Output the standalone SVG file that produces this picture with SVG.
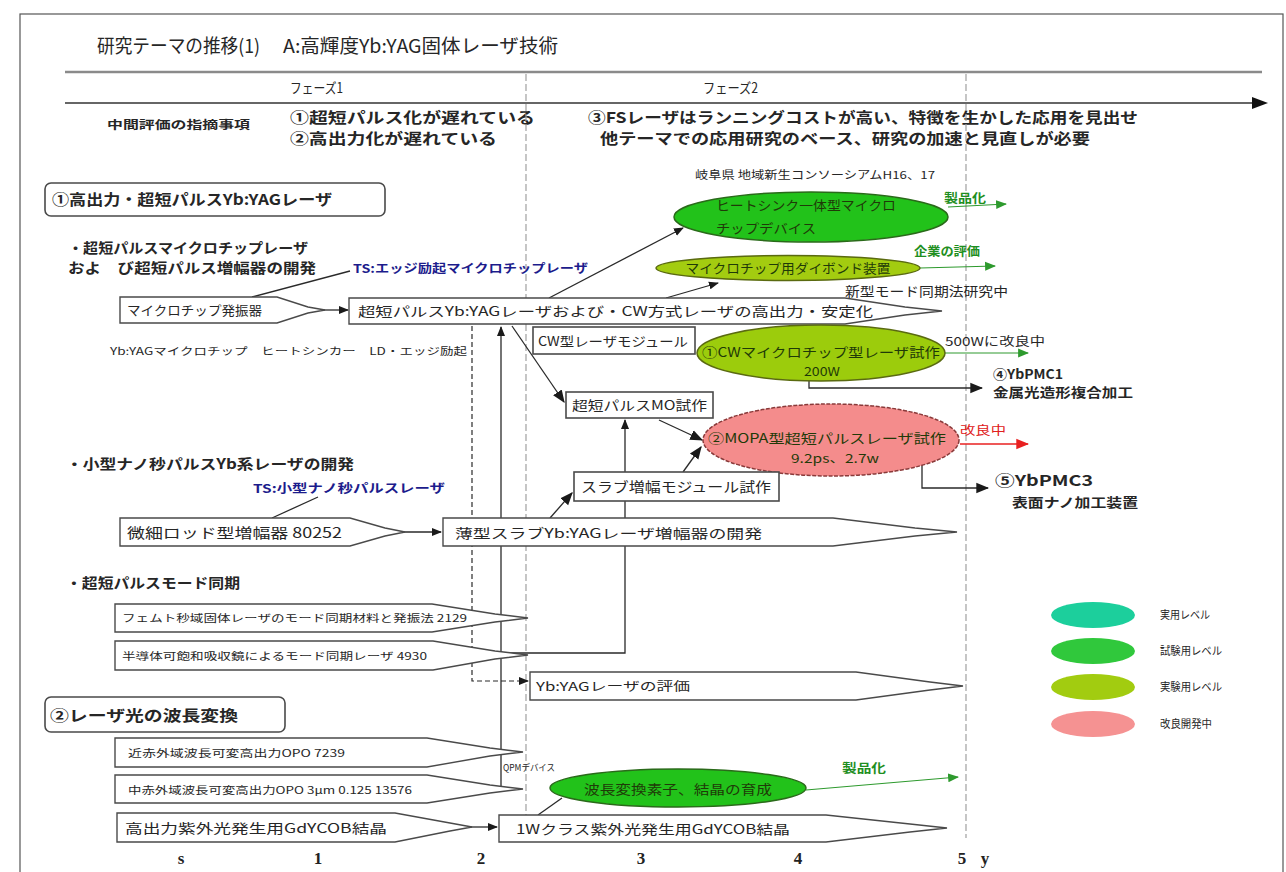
<svg xmlns="http://www.w3.org/2000/svg" width="1286" height="872" viewBox="0 0 1286 872">
<style>
  text { font-family: "Noto Sans CJK JP", "Noto Sans CJK SC", sans-serif; fill: #262626; }
  .b { font-weight: bold; }
  .blue { fill: #1c1c8c; font-weight: bold; }
  .gtxt { fill: #1f8f1f; font-weight: bold; }
  .rtxt { fill: #e02020; }
  .etxt { fill: #1f3a08; }
  .ax { font-family: "Liberation Serif", serif; font-weight: bold; font-size: 17px; fill: #222; }
  .box { fill: #fff; stroke: #4a4a4a; stroke-width: 1.6; }
  .rbox { fill: #fff; stroke: #4a4a4a; stroke-width: 1.6; }
  .pent { fill: #fff; stroke: #4a4a4a; stroke-width: 1.4; }
  .con { fill: none; stroke: #2a2a2a; stroke-width: 1.3; }
  .dash { fill: none; stroke: #2a2a2a; stroke-width: 1.2; stroke-dasharray: 5 3; }
  .grid { fill: none; stroke: #a0a0a0; stroke-width: 1.2; stroke-dasharray: 7 3; }
  .gcon { fill: none; stroke: #2e9a2e; stroke-width: 1.2; }
  .rcon { fill: none; stroke: #e82020; stroke-width: 1.4; }
</style>
<defs>
  <marker id="ak" viewBox="0 0 10 10" refX="9" refY="5" markerWidth="10" markerHeight="10" markerUnits="userSpaceOnUse" orient="auto">
    <path d="M0,1 L10,5 L0,9 z" fill="#1a1a1a"/>
  </marker>
  <marker id="ag" viewBox="0 0 10 10" refX="9" refY="5" markerWidth="11" markerHeight="11" markerUnits="userSpaceOnUse" orient="auto">
    <path d="M0,1 L10,5 L0,9 z" fill="#2e9a2e"/>
  </marker>
  <marker id="ar" viewBox="0 0 10 10" refX="9" refY="5" markerWidth="13" markerHeight="13" markerUnits="userSpaceOnUse" orient="auto">
    <path d="M0,1 L10,5 L0,9 z" fill="#e82020"/>
  </marker>
  <marker id="abig" viewBox="0 0 10 10" refX="9" refY="5" markerWidth="13" markerHeight="13" markerUnits="userSpaceOnUse" orient="auto">
    <path d="M0,1 L10,5 L0,9 z" fill="#1a1a1a"/>
  </marker>
</defs>

<rect x="0" y="0" width="1286" height="872" fill="#fff"/>
<rect x="20" y="14" width="1263" height="870" fill="none" stroke="#555" stroke-width="1.2"/>

<!-- header -->
<g id="header">
  <text x="97" y="53" font-size="19" textLength="163" lengthAdjust="spacingAndGlyphs">研究テーマの推移(1)</text>
  <text x="283" y="53" font-size="19" textLength="275" lengthAdjust="spacingAndGlyphs">A:高輝度Yb:YAG固体レーザ技術</text>
  <line x1="65" y1="72" x2="1262" y2="72" stroke="#8a8a8a" stroke-width="2.5"/>
  <text x="290" y="93" font-size="14" textLength="53" lengthAdjust="spacingAndGlyphs">フェーズ1</text>
  <text x="703" y="93" font-size="14" textLength="55" lengthAdjust="spacingAndGlyphs">フェーズ2</text>
  <line x1="65" y1="103" x2="1256" y2="103" stroke="#333" stroke-width="1.6"/>
  <path d="M1268,103 L1252,97 L1252,109 z" fill="#111"/>
  <text x="107" y="129" font-size="11" class="b" textLength="143" lengthAdjust="spacingAndGlyphs">中間評価の指摘事項</text>
  <text x="290" y="123" font-size="15" class="b" textLength="245" lengthAdjust="spacingAndGlyphs">①超短パルス化が遅れている</text>
  <text x="290" y="144" font-size="15" class="b" textLength="207" lengthAdjust="spacingAndGlyphs">②高出力化が遅れている</text>
  <text x="588" y="123" font-size="15" class="b" textLength="550" lengthAdjust="spacingAndGlyphs">③FSレーザはランニングコストが高い、特徴を生かした応用を見出せ</text>
  <text x="600" y="144" font-size="15" class="b" textLength="490" lengthAdjust="spacingAndGlyphs">他テーマでの応用研究のベース、研究の加速と見直しが必要</text>
</g>

<!-- phase grid lines -->
<g id="grid">
  <line x1="526" y1="74" x2="526" y2="842" class="grid"/>
  <line x1="966" y1="74" x2="966" y2="838" class="grid"/>
</g>

<!-- connectors -->
<g id="connectors">
  <line x1="350" y1="271" x2="252" y2="297" class="con"/>
  <line x1="318" y1="310" x2="348" y2="310" class="con" marker-end="url(#ak)"/>
  <line x1="549" y1="298" x2="683" y2="228" class="con" marker-end="url(#ak)"/>
  <line x1="666" y1="298" x2="718" y2="283" class="con" marker-end="url(#ak)"/>
  <line x1="512" y1="326" x2="564" y2="402" class="con" marker-end="url(#abig)"/>
  <line x1="501" y1="790" x2="501" y2="327" class="con" marker-end="url(#ak)"/>
  <polyline points="472,326 472,681 528,681" class="dash" marker-end="url(#ak)"/>
  <line x1="659" y1="420" x2="702" y2="440" class="con" marker-end="url(#abig)"/>
  <line x1="683" y1="472" x2="701" y2="447" class="con" marker-end="url(#abig)"/>
  <polyline points="501,653 625,653 625,420" class="con" marker-end="url(#ak)"/>
  <polyline points="809,381 809,388 982,388" class="con" marker-end="url(#abig)"/>
  <polyline points="922,462 922,488 988,488" class="con" marker-end="url(#abig)"/>
  <line x1="318" y1="497" x2="272" y2="518" class="con"/>
  <line x1="395" y1="532" x2="441" y2="532" class="con" marker-end="url(#ak)"/>
  <line x1="550" y1="518" x2="572" y2="493" class="con" marker-end="url(#abig)"/>
  <line x1="562" y1="798" x2="538" y2="815" class="con"/>
  <line x1="465" y1="827" x2="497" y2="827" class="con" marker-end="url(#ak)"/>
  <line x1="948" y1="207" x2="1006" y2="204" class="gcon" marker-end="url(#ag)"/>
  <line x1="920" y1="268" x2="995" y2="266" class="gcon" marker-end="url(#ag)"/>
  <line x1="945" y1="353" x2="1028" y2="353" class="gcon" marker-end="url(#ag)"/>
  <line x1="806" y1="790" x2="958" y2="777" class="gcon" marker-end="url(#ag)"/>
  <line x1="960" y1="444" x2="1028" y2="444" class="rcon" marker-end="url(#ar)"/>
</g>

<!-- section 1 -->
<g id="sec1">
  <rect x="45" y="183" width="340" height="33" rx="6" class="rbox"/>
  <text x="52" y="205" font-size="15" class="b" textLength="280" lengthAdjust="spacingAndGlyphs">①高出力・超短パルスYb:YAGレーザ</text>
</g>
<g id="sub1">
  <text x="68" y="253" font-size="14" class="b" textLength="240" lengthAdjust="spacingAndGlyphs">・超短パルスマイクロチップレーザ</text>
  <text x="68" y="273" font-size="14" class="b" textLength="248" lengthAdjust="spacingAndGlyphs">およ　び超短パルス増幅器の開発</text>
  <text x="353" y="273" font-size="12" class="blue" textLength="235" lengthAdjust="spacingAndGlyphs">TS:エッジ励起マイクロチップレーザ</text>
  <text x="110" y="355" font-size="10" textLength="357" lengthAdjust="spacingAndGlyphs">Yb:YAGマイクロチップ　ヒートシンカー　LD・エッジ励起</text>
</g>
<g id="n-microchip">
  <polygon points="120,297 277,297 308,307 325,310 308,313 277,323 120,323" class="pent"/>
  <text x="127" y="315" font-size="13" textLength="135" lengthAdjust="spacingAndGlyphs">マイクロチップ発振器</text>
</g>
<g id="n-main">
  <polygon points="349,298 845,298 905,307 942,311 905,315 845,324 349,324" class="pent"/>
  <text x="358" y="316" font-size="13" textLength="515" lengthAdjust="spacingAndGlyphs">超短パルスYb:YAGレーザおよび・CW方式レーザの高出力・安定化</text>
</g>
<text x="845" y="296" font-size="13" textLength="163" lengthAdjust="spacingAndGlyphs">新型モード同期法研究中</text>
<text x="695" y="179" font-size="11" textLength="240" lengthAdjust="spacingAndGlyphs">岐阜県 地域新生コンソーシアムH16、17</text>

<g id="n-heatsink">
  <ellipse cx="811" cy="217" rx="137" ry="25" fill="#22c21a" stroke="#2a6a1a" stroke-width="1.5"/>
  <text x="716" y="210" font-size="13" class="etxt" textLength="180" lengthAdjust="spacingAndGlyphs">ヒートシンク一体型マイクロ</text>
  <text x="716" y="233" font-size="13" class="etxt" textLength="100" lengthAdjust="spacingAndGlyphs">チップデバイス</text>
  <text x="944" y="203" font-size="12" class="gtxt" textLength="42" lengthAdjust="spacingAndGlyphs">製品化</text>
</g>
<g id="n-diebond">
  <ellipse cx="788" cy="268" rx="132" ry="12.5" fill="#a3cc10" stroke="#5a6a10" stroke-width="1.5"/>
  <text x="788" y="273" font-size="13" class="etxt" text-anchor="middle" textLength="205" lengthAdjust="spacingAndGlyphs">マイクロチップ用ダイボンド装置</text>
  <text x="914" y="256" font-size="12" class="gtxt" textLength="66" lengthAdjust="spacingAndGlyphs">企業の評価</text>
</g>
<g id="n-cwmodule">
  <rect x="533" y="327" width="162" height="27" class="box"/>
  <text x="538" y="346" font-size="13" textLength="150" lengthAdjust="spacingAndGlyphs">CW型レーザモジュール</text>
</g>
<g id="n-cw">
  <ellipse cx="821" cy="353" rx="124" ry="28" fill="#9ccc0c" stroke="#5a6a10" stroke-width="1.5"/>
  <text x="702" y="357" font-size="13" class="etxt" textLength="238" lengthAdjust="spacingAndGlyphs">①CWマイクロチップ型レーザ試作</text>
  <text x="822" y="376" font-size="12" class="etxt" text-anchor="middle" textLength="36" lengthAdjust="spacingAndGlyphs">200W</text>
  <text x="945" y="346" font-size="12" textLength="100" lengthAdjust="spacingAndGlyphs">500Wに改良中</text>
</g>
<g id="n-pmc1">
  <text x="993" y="379" font-size="13" class="b" textLength="70" lengthAdjust="spacingAndGlyphs">④YbPMC1</text>
  <text x="993" y="397" font-size="13" class="b" textLength="140" lengthAdjust="spacingAndGlyphs">金属光造形複合加工</text>
</g>
<g id="n-mo">
  <rect x="566" y="392" width="147" height="26" class="box"/>
  <text x="572" y="410" font-size="13" textLength="135" lengthAdjust="spacingAndGlyphs">超短パルスMO試作</text>
</g>
<g id="n-mopa">
  <ellipse cx="831" cy="440" rx="128" ry="36" fill="#f48c8c" stroke="#8a3a3a" stroke-width="1.5" stroke-dasharray="4 1.5"/>
  <text x="708" y="443" font-size="13" class="etxt" textLength="238" lengthAdjust="spacingAndGlyphs">②MOPA型超短パルスレーザ試作</text>
  <text x="835" y="463" font-size="12" class="etxt" text-anchor="middle" textLength="88" lengthAdjust="spacingAndGlyphs">9.2ps、2.7w</text>
  <text x="960" y="435" font-size="12" class="rtxt" textLength="46" lengthAdjust="spacingAndGlyphs">改良中</text>
</g>
<g id="n-pmc3">
  <text x="995" y="486" font-size="15" class="b" textLength="98" lengthAdjust="spacingAndGlyphs">⑤YbPMC3</text>
  <text x="1012" y="507" font-size="13" class="b" textLength="126" lengthAdjust="spacingAndGlyphs">表面ナノ加工装置</text>
</g>

<!-- nano second -->
<g id="sub2">
  <text x="66" y="469" font-size="14" class="b" textLength="288" lengthAdjust="spacingAndGlyphs">・小型ナノ秒パルスYb系レーザの開発</text>
  <text x="253" y="493" font-size="12" class="blue" textLength="192" lengthAdjust="spacingAndGlyphs">TS:小型ナノ秒パルスレーザ</text>
</g>
<g id="n-rod">
  <polygon points="120,518 350,518 385,528 405,532 385,536 350,546 120,546" class="pent"/>
  <text x="127" y="538" font-size="14" textLength="215" lengthAdjust="spacingAndGlyphs">微細ロッド型増幅器 80252</text>
</g>
<g id="n-slab">
  <polygon points="443,518 833,518 915,528 957,532 915,536 833,546 443,546" class="pent"/>
  <text x="455" y="538" font-size="13" textLength="307" lengthAdjust="spacingAndGlyphs">薄型スラブYb:YAGレーザ増幅器の開発</text>
</g>
<g id="n-slabmod">
  <rect x="574" y="472" width="205" height="29" class="box"/>
  <text x="581" y="492" font-size="14" textLength="190" lengthAdjust="spacingAndGlyphs">スラブ増幅モジュール試作</text>
</g>

<!-- mode lock -->
<g id="sub3">
  <text x="66" y="588" font-size="14" class="b" textLength="174" lengthAdjust="spacingAndGlyphs">・超短パルスモード同期</text>
</g>
<g id="n-femto">
  <polygon points="115,604 432,604 495,614 528,618 495,622 432,632 115,632" class="pent"/>
  <text x="122" y="622" font-size="10" textLength="345" lengthAdjust="spacingAndGlyphs">フェムト秒域固体レーザのモード同期材料と発振法 2129</text>
</g>
<g id="n-sesam">
  <polygon points="115,641 433,641 495,651 528,655 495,659 433,670 115,670" class="pent"/>
  <text x="122" y="660" font-size="10" textLength="305" lengthAdjust="spacingAndGlyphs">半導体可飽和吸収鏡によるモード同期レーザ 4930</text>
</g>
<g id="n-eval">
  <polygon points="530,672 856,672 930,682 963,686 930,690 856,700 530,700" class="pent"/>
  <text x="536" y="691" font-size="12" textLength="154" lengthAdjust="spacingAndGlyphs">Yb:YAGレーザの評価</text>
</g>

<!-- section 2 -->
<g id="sec2">
  <rect x="45" y="697" width="240" height="35" rx="6" class="rbox"/>
  <text x="50" y="721" font-size="15" class="b" textLength="188" lengthAdjust="spacingAndGlyphs">②レーザ光の波長変換</text>
</g>
<g id="n-nir">
  <polygon points="115,738 427,738 490,748 523,752 490,756 427,767 115,767" class="pent"/>
  <text x="128" y="757" font-size="10" textLength="217" lengthAdjust="spacingAndGlyphs">近赤外域波長可変高出力OPO 7239</text>
</g>
<g id="n-mir">
  <polygon points="115,775 427,775 490,785 523,789 490,793 427,803 115,803" class="pent"/>
  <text x="128" y="794" font-size="10" textLength="284" lengthAdjust="spacingAndGlyphs">中赤外域波長可変高出力OPO 3μm 0.125 13576</text>
</g>
<g id="n-gdycob">
  <polygon points="117,813 395,813 450,823 472,827 450,831 395,842 117,842" class="pent"/>
  <text x="125" y="833" font-size="13" textLength="262" lengthAdjust="spacingAndGlyphs">高出力紫外光発生用GdYCOB結晶</text>
</g>
<g id="n-1w">
  <polygon points="499,815 826,815 910,824 947,828 910,832 826,842 499,842" class="pent"/>
  <text x="516" y="834" font-size="13" textLength="274" lengthAdjust="spacingAndGlyphs">1Wクラス紫外光発生用GdYCOB結晶</text>
</g>
<g id="n-qpm">
  <ellipse cx="678" cy="788" rx="128" ry="19" fill="#22c21a" stroke="#2a6a1a" stroke-width="1.5"/>
  <text x="678" y="794" font-size="13" class="etxt" text-anchor="middle" textLength="188" lengthAdjust="spacingAndGlyphs">波長変換素子、結晶の育成</text>
  <text x="503" y="771" font-size="9" textLength="52" lengthAdjust="spacingAndGlyphs">QPMデバイス</text>
  <text x="842" y="773" font-size="12" class="gtxt" textLength="44" lengthAdjust="spacingAndGlyphs">製品化</text>
</g>

<!-- axis -->
<g id="axis">
  <text x="181" y="864" class="ax" text-anchor="middle">s</text>
  <text x="318" y="864" class="ax" text-anchor="middle">1</text>
  <text x="481" y="864" class="ax" text-anchor="middle">2</text>
  <text x="641" y="864" class="ax" text-anchor="middle">3</text>
  <text x="798" y="864" class="ax" text-anchor="middle">4</text>
  <text x="962" y="864" class="ax" text-anchor="middle">5</text>
  <text x="985" y="864" class="ax" text-anchor="middle">y</text>
</g>

<!-- legend -->
<g id="legend">
  <ellipse cx="1093" cy="615" rx="42" ry="13" fill="#1ccf9c"/>
  <text x="1160" y="619" font-size="11" textLength="50" lengthAdjust="spacingAndGlyphs">実用レベル</text>
  <ellipse cx="1093" cy="651" rx="42" ry="13" fill="#30c83c"/>
  <text x="1160" y="655" font-size="11" textLength="62" lengthAdjust="spacingAndGlyphs">試験用レベル</text>
  <ellipse cx="1093" cy="687" rx="42" ry="13" fill="#a2cc10"/>
  <text x="1160" y="691" font-size="11" textLength="62" lengthAdjust="spacingAndGlyphs">実験用レベル</text>
  <ellipse cx="1093" cy="724" rx="42" ry="13" fill="#f59292"/>
  <text x="1160" y="728" font-size="11" textLength="52" lengthAdjust="spacingAndGlyphs">改良開発中</text>
</g>
</svg>
